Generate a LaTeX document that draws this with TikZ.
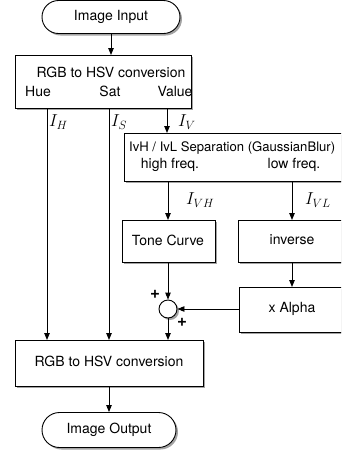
\documentclass[tikz,border=0pt]{standalone}
\usepackage{fontspec}
\setmainfont{TeX Gyre Heros}
\usetikzlibrary{shapes.misc,shadows,arrows.meta,calc}
\begin{document}
\begin{tikzpicture}[x=1pt,y=-1pt,
  txt/.style={font=\fontsize{14}{16}\selectfont, inner sep=0pt},
  stxt/.style={font=\fontsize{13.1}{16}\selectfont, inner sep=0pt},
  mlab/.style={font=\fontsize{18}{20}\selectfont, inner sep=0pt, anchor=west},
  shad/.style={drop shadow={shadow xshift=2pt, shadow yshift=-2pt, fill=black!45, opacity=0.8}},
  blk/.style={draw, line width=0.9pt, fill=white, shad, rectangle, inner sep=0pt, anchor=north west},
  term/.style={draw, line width=0.9pt, fill=white, shad, rounded rectangle, inner sep=0pt, font=\fontsize{14}{16}\selectfont},
  sumc/.style={draw, line width=0.9pt, fill=white, shad, circle, minimum size=18pt, inner sep=0pt},
  arr/.style={line width=0.9pt, -{Triangle[length=7pt,width=5.5pt]}},
  pls/.style={font=\fontsize{17}{18}\bfseries\selectfont, inner sep=0pt}]
\useasboundingbox (0,0) rectangle (341,451);
\clip (0,0) rectangle (341,451);
% nodes
\node[term, minimum width=138pt, minimum height=33pt] (in) at (111,17) {Image Input};
\node[blk, minimum width=176pt, minimum height=53pt] (rgb1) at (15,55) {};
\node[txt] (rgb1t) at (111,72) {RGB to HSV conversion};
\node[txt] (hue) at (38,91) {Hue};
\node[txt] (sat) at (110,91) {Sat};
\node[txt] (val) at (175,91) {Value};
\node[blk, minimum width=240pt, minimum height=48pt] (sep) at (124,133) {};
\node[stxt, anchor=west] (sept) at (129,148) {IvH / IvL Separation (GaussianBlur)};
\node[txt] (hf) at (170,165) {high freq.};
\node[txt] (lf) at (294,165) {low freq.};
\node[blk, minimum width=93pt, minimum height=42pt] (tone) at (122,220) {};
\node[txt] (tonet) at (168,240) {Tone Curve};
\node[blk, minimum width=130pt, minimum height=42pt] (inv) at (238,220) {};
\node[txt] (invt) at (292,240) {inverse};
\node[blk, minimum width=130pt, minimum height=45pt] (alpha) at (239,287) {};
\node[txt] (alphat) at (292,309) {x Alpha};
\node[sumc] (sum) at (168,309) {};
\node[pls] (p1) at (155,294) {+};
\node[pls] (p2) at (182,322) {+};
\node[blk, minimum width=188pt, minimum height=46pt] (rgb2) at (15,340) {};
\node[txt] (rgb2t) at (109,361) {RGB to HSV conversion};
\node[term, minimum width=134pt, minimum height=35pt] (out) at (109,430) {Image Output};
% x positions
\coordinate (xh) at (47,0);
\coordinate (xs) at (109,0);
\coordinate (xv) at (167,0);
\coordinate (xhi) at (168,0);
\coordinate (xlo) at (292,0);
% connectors
\draw[arr] (in) -- (in |- rgb1.north);
\draw[arr] (xh |- rgb1.south) -- (xh |- rgb2.north);
\draw[arr] (xs |- rgb1.south) -- (xs |- rgb2.north);
\draw[arr] (xv |- rgb1.south) -- (xv |- sep.north);
\draw[arr] (xhi |- sep.south) -- (xhi |- tone.north);
\draw[arr] (xlo |- sep.south) -- (xlo |- inv.north);
\draw[arr] (xlo |- inv.south) -- (xlo |- alpha.north);
\draw[arr] (tone.south -| sum) -- (sum.north);
\draw[arr] (alpha.west |- sum) -- (sum.east);
\draw[arr] (sum.south) -- (sum |- rgb2.north);
\draw[arr] (rgb2t |- rgb2.south) -- (out.north);
% labels
\node[mlab] (lh) at (49,122) {$I_H$};
\node[mlab] (ls) at (111,122) {$I_S$};
\node[mlab] (lv) at (178,122) {$I_V$};
\node[mlab] (lvh) at (186,200) {$I_{VH}$};
\node[mlab] (lvl) at (305,200) {$I_{VL}$};
\end{tikzpicture}
\end{document}
